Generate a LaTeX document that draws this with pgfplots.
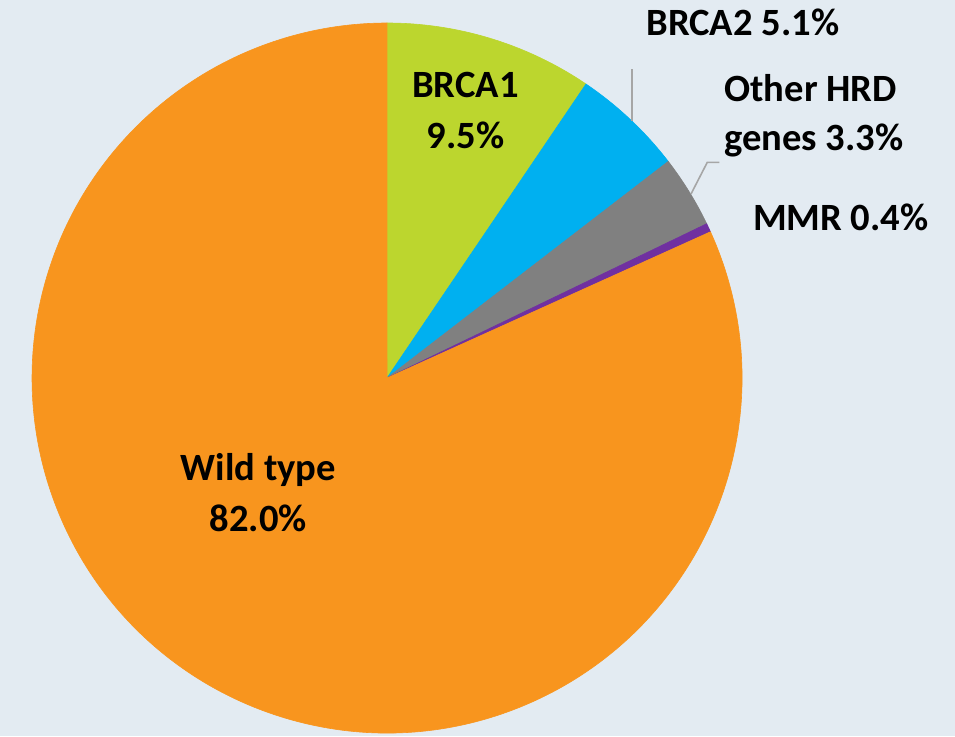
\documentclass[border=0pt]{standalone}
\usepackage{pgfplots}
\pgfplotsset{compat=1.18}
\usepackage{pgfplotstable}
\usepackage{fontspec}
\setmainfont{Carlito}

\definecolor{bgcol}{HTML}{E3EBF2}
\definecolor{cBRCAone}{HTML}{BCD62E}
\definecolor{cBRCAtwo}{HTML}{00B0F0}
\definecolor{cOther}{HTML}{808080}
\definecolor{cMMR}{HTML}{7030A0}
\definecolor{cWild}{HTML}{F8951E}
\definecolor{leadcol}{HTML}{A6A6A6}

% share of tumours by mutation status (percent), clockwise from 12 o'clock
\pgfplotstableread{
label     pct   color
BRCA1     9.5   cBRCAone
BRCA2     5.1   cBRCAtwo
OtherHRD  3.3   cOther
MMR       0.4   cMMR
Wildtype  82.0  cWild
}\piedata

\begin{document}
\begin{tikzpicture}
\begin{axis}[
  scale only axis,
  width=477.5pt, height=368pt,
  xmin=0, xmax=955, ymin=0, ymax=736,
  hide axis,
  clip=false,
]
  % background
  \fill[bgcol] (rel axis cs:0,0) rectangle (rel axis cs:1,1);

  % total of the shares, so that the slices close the circle
  \pgfplotstablegetrowsof{\piedata}
  \pgfmathtruncatemacro\lastrow{\pgfplotsretval-1}
  \def\pietotal{0}
  \pgfplotsforeachungrouped \i in {0,...,\lastrow}{%
    \pgfplotstablegetelem{\i}{pct}\of\piedata
    \pgfmathsetmacro\pietotal{\pietotal+\pgfplotsretval}%
  }

  % slices: centre (387,358), radius 355 units = 177.5pt
  \def\startang{90}
  \pgfplotsforeachungrouped \i in {0,...,\lastrow}{%
    \pgfplotstablegetelem{\i}{pct}\of\piedata
    \let\p\pgfplotsretval
    \pgfplotstablegetelem{\i}{color}\of\piedata
    \let\c\pgfplotsretval
    \pgfmathsetmacro\endang{\startang-(\p/\pietotal)*360}%
    \edef\slice{\noexpand\filldraw[fill=\c, draw=\c, line width=0.3pt]
      (axis cs:387,358) -- ++(\startang:177.5pt)
      arc[start angle=\startang, end angle=\endang, radius=177.5pt] -- cycle;}%
    \slice
    \let\startang\endang
  }

  % leader lines
  \draw[leadcol, line width=1pt] (axis cs:631.7,667) -- (axis cs:631.7,615.5);
  \draw[leadcol, line width=0.8pt] (axis cs:719.3,573.7) -- (axis cs:707.3,573.7) -- (axis cs:691,542);

  % labels
  \begin{scope}[every node/.style={inner sep=0pt, font=\bfseries\fontsize{19.3pt}{25pt}\selectfont}]
    \node[anchor=base] at (axis cs:465.5,638.7) {BRCA1};
    \node[anchor=base] at (axis cs:465.5,587.7) {9.5\%};
    \node[anchor=base] at (axis cs:742.8,701) {BRCA2 5.1\%};
    \node[anchor=base west] at (axis cs:724,634.3) {Other HRD};
    \node[anchor=base west] at (axis cs:724,585.3) {genes 3.3\%};
    \node[anchor=base] at (axis cs:840.8,506) {MMR 0.4\%};
    \node[anchor=base] at (axis cs:258.4,255.3) {Wild type};
    \node[anchor=base] at (axis cs:258.4,204.3) {82.0\%};
  \end{scope}
\end{axis}
% the page is exactly the plotting area
\pgfresetboundingbox
\path[use as bounding box] (current axis.south west) rectangle (current axis.north east);
\end{tikzpicture}
\end{document}
